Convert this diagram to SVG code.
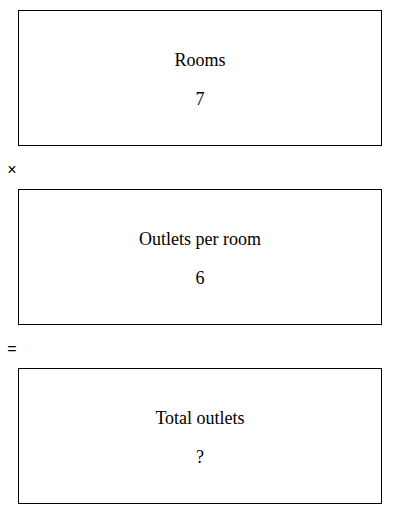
<svg xmlns="http://www.w3.org/2000/svg" width="400" height="514" viewBox="0 0 400 514">
<style>
.box{fill:#fff;stroke:#000;stroke-width:1}
.t{font-family:"Liberation Serif","Times New Roman",serif;font-size:18px;fill:#000;text-anchor:middle}
.op{font-family:"Liberation Sans",Arial,sans-serif;font-size:16px;fill:#000;text-anchor:middle}
</style>
<rect width="400" height="514" fill="#fff"/>
<g id="rooms">
<rect class="box" x="18.5" y="10.5" width="363" height="135"/>
<text class="t" x="200" y="66">Rooms</text>
<text class="t" x="200" y="105">7</text>
</g>
<g id="op-times"><text class="op" x="12" y="175">×</text></g>
<g id="outlets">
<rect class="box" x="18.5" y="189.5" width="363" height="135"/>
<text class="t" x="200" y="245">Outlets per room</text>
<text class="t" x="200" y="284">6</text>
</g>
<g id="op-eq"><text class="op" x="12" y="354">=</text></g>
<g id="total">
<rect class="box" x="18.5" y="368.5" width="363" height="135"/>
<text class="t" x="200" y="424">Total outlets</text>
<text class="t" x="200" y="463">?</text>
</g>
<g id="connectors"></g>
</svg>
